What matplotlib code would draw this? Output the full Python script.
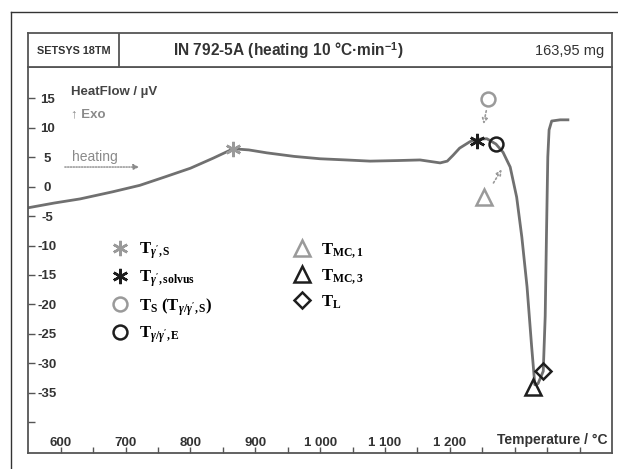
import matplotlib
matplotlib.use("Agg")
import matplotlib.pyplot as plt
from matplotlib.lines import Line2D

plt.rcParams['font.family'] = ['Liberation Sans', 'DejaVu Sans']
plt.rcParams['mathtext.fontset'] = 'custom'
plt.rcParams['mathtext.rm'] = 'Liberation Serif:bold'
plt.rcParams['mathtext.it'] = 'Liberation Serif:bold:italic'
plt.rcParams['mathtext.bf'] = 'Liberation Serif:bold'

# DSC curve (temperature in degC, heat flow in uV)
temp = [550, 590, 630, 680, 722, 760, 800, 835, 866, 890, 918, 960, 1000, 1040,
        1077, 1120, 1154, 1185, 1196, 1205, 1215, 1231, 1242, 1257, 1271, 1282,
        1293, 1303, 1311, 1319, 1326, 1331, 1336, 1344, 1347, 1349, 1351, 1353,
        1357, 1370, 1382]
heat = [-3.6, -2.8, -2.1, -0.9, 0.2, 1.6, 3.1, 4.8, 6.4, 6.2, 5.7, 5.1, 4.7, 4.5,
        4.3, 4.4, 4.5, 4.0, 4.3, 5.3, 6.5, 7.6, 8.0, 8.1, 7.2, 5.8,
        3.3, -1.8, -8.6, -17.0, -27.0, -33.6, -33.4, -31.3, -22.0, -8.0, 5.0, 9.6,
        11.1, 11.3, 11.3]

# characteristic temperatures
pt_labels = [r"$\mathrm{T}_{\gamma',\mathrm{S}}$",
             r"$\mathrm{T}_{\gamma',\mathrm{solvus}}$",
             r"$\mathrm{T}_{\mathrm{S}}\ \mathrm{(T}_{\gamma/\gamma',\mathrm{S}}\mathrm{)}$",
             r"$\mathrm{T}_{\gamma/\gamma',\mathrm{E}}$",
             r"$\mathrm{T}_{\mathrm{MC,1}}$",
             r"$\mathrm{T}_{\mathrm{MC,3}}$",
             r"$\mathrm{T}_{\mathrm{L}}$"]
pt_temp = [866, 1242, 1259, 1271, 1252, 1328, 1343.5]
pt_heat = [6.4, 7.7, 14.8, 7.2, -1.8, -34.0, -31.3]
pt_marker = [(6, 2, 0), (6, 2, 0), 'o', 'o', '^', '^', 'D']
pt_color = ['#9a9a9a', '#1e1e1e', '#9a9a9a', '#1e1e1e', '#9a9a9a', '#1e1e1e', '#1e1e1e']
pt_size = [11, 11, 10, 10, 11, 11, 8]

xticks = [600, 700, 800, 900, 1000, 1100, 1200, 1300, 1400]
xlabels = ['600', '700', '800', '900', '1 000', '1 100', '1 200', '', '']
yticks = [-40, -35, -30, -25, -20, -15, -10, -5, 0, 5, 10, 15]
ylabels = ['', '-35', '-30', '-25', '-20', '-15', '-10', '-5', '0', '5', '10', '15']

W, H = 618, 469
fig = plt.figure(figsize=(W / 100, H / 100), dpi=100)

frame_col = '#555555'
txt_col = '#333333'

ax = fig.add_axes([28.3 / W, 1 - 453 / H, (612 - 28.3) / W, (453 - 67.5) / H])
ax.plot(temp, heat, color='#707070', lw=2.0, zorder=2)
for t, h, m, c, s in zip(pt_temp, pt_heat, pt_marker, pt_color, pt_size):
    ax.plot(t, h, marker=m, ms=s, mfc='none', mec=c, mew=1.8, ls='none', zorder=3)

# dotted arrows
arr = dict(arrowstyle='-|>', color='#9a9a9a', lw=1.2, ls=(0, (1, 1.5)),
           mutation_scale=8, fc='white')
ax.annotate('', xy=(1251, 10.1), xytext=(1257, 13.3), arrowprops=arr)
ax.annotate('', xy=(1282, 3.3), xytext=(1265, 0.2), arrowprops=arr)
ax.annotate('', xy=(725, 3.3), xytext=(602, 3.3),
            arrowprops=dict(arrowstyle='-|>', color='#8a8a8a', lw=1.0,
                            ls=(0, (1, 1)), mutation_scale=8))
ax.text(617, 5.0, 'heating', color='#8a8a8a', fontsize=10, va='center', ha='left')

ax.set_xlim(550, 1450)
ax.set_ylim(-45.17, 20.17)
ax.set_xticks(xticks)
ax.set_xticklabels(xlabels)
ax.set_xticks(range(650, 1450, 100), minor=True)
ax.set_yticks(yticks)
ax.set_yticklabels(ylabels)
ax.tick_params(axis='x', which='both', direction='in', length=4, width=1,
               color=frame_col, pad=-11.5, labelsize=9.5, labelcolor=txt_col)
ax.tick_params(axis='y', direction='in', length=5, width=1, color=frame_col,
               pad=-13.5, labelsize=9.5, labelcolor=txt_col)
for lab in ax.get_yticklabels():
    lab.set_horizontalalignment('center')
    lab.set_fontweight('bold')
for lab in ax.get_xticklabels():
    lab.set_fontweight('bold')
for sp in ax.spines.values():
    sp.set_color(frame_col)
    sp.set_linewidth(1.3)

ax.text(0.992, 0.035, 'Temperature / °C', transform=ax.transAxes, ha='right',
        va='center', fontsize=10, fontweight='bold', color=txt_col)

handles = [Line2D([], [], marker=m, ms=s, mfc='none', mec=c, mew=1.8, ls='none')
           for m, c, s in zip(pt_marker, pt_color, pt_size)]
ax.legend(handles, pt_labels, ncol=2, frameon=False, loc='upper left',
          bbox_to_anchor=(0.132, 0.568), fontsize=12, handlelength=1.0,
          handletextpad=0.6, labelspacing=0.42, columnspacing=4.9,
          borderaxespad=0)

# y-axis title
fig.text(71 / W, 1 - 92 / H, 'HeatFlow / µV', fontsize=9.5, fontweight='bold',
         color='#444444', va='center', ha='left')
fig.text(71 / W, 1 - 114 / H, '↑ Exo', fontsize=9.5, fontweight='bold',
         color='#8a8a8a', va='center', ha='left')

# header box
hx = fig.add_axes([28.3 / W, 1 - 67.5 / H, (612 - 28.3) / W, (67.5 - 33) / H])
hx.set_xlim(0, 1)
hx.set_ylim(0, 1)
hx.set_xticks([])
hx.set_yticks([])
for sp in hx.spines.values():
    sp.set_color(frame_col)
    sp.set_linewidth(1.3)
hx.axvline((119 - 28.3) / (612 - 28.3), color=frame_col, lw=1.3)
hx.text((74 - 28.3) / (612 - 28.3), 0.48, 'SETSYS 18TM', ha='center', va='center',
        fontsize=7.8, fontweight='bold', color=txt_col)
hx.text((288 - 28.3) / (612 - 28.3), 0.48, r'IN 792-5A (heating 10 °C·min$^{\mathregular{-1}}$)',
        ha='center', va='center', fontsize=11.2, fontweight='bold', color=txt_col)
hx.text((604 - 28.3) / (612 - 28.3), 0.48, '163,95 mg', ha='right', va='center',
        fontsize=10.5, color=txt_col)

# outer frame lines
fig.add_artist(Line2D([10.7 / W, 10.7 / W], [0, 1 - 11.7 / H], transform=fig.transFigure,
                      color='#333333', lw=1.0))
fig.add_artist(Line2D([10.7 / W, 1], [1 - 11.7 / H, 1 - 11.7 / H], transform=fig.transFigure,
                      color='#333333', lw=1.0))

fig.savefig('out.png', dpi=100)
